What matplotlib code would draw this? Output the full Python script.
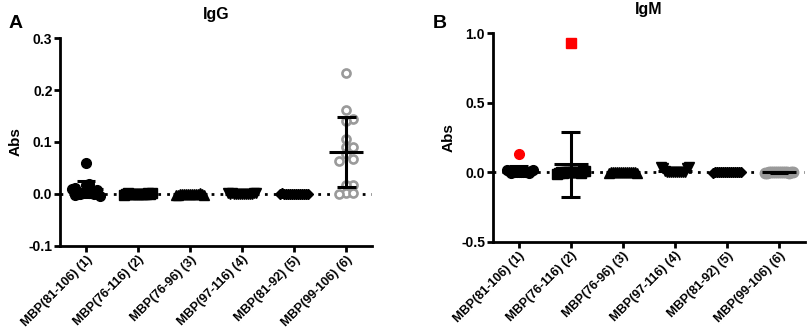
import numpy as np
import matplotlib
matplotlib.use("Agg")
import matplotlib.pyplot as plt

plt.rcParams['font.family'] = ['Liberation Sans', 'DejaVu Sans']
plt.rcParams['font.weight'] = 'bold'

# peptide groups (x axis)
groups = ["MBP(81-106) (1)", "MBP(76-116) (2)", "MBP(76-96) (3)",
          "MBP(97-116) (4)", "MBP(81-92) (5)", "MBP(99-106) (6)"]

# IgG absorbance per group
igg_g1 = [0.059, 0.020, 0.018, 0.012, 0.010, 0.008, 0.005, 0.003, 0.002, 0.001, 0.0, 0.0, 0.0, -0.002, -0.003]
igg_g2 = [0.002, 0.001, 0.001, 0.0, 0.0, 0.0, 0.0, 0.0, 0.0, 0.0, 0.0, -0.001, -0.001, -0.001, -0.002]
igg_g3 = [0.001, 0.0, 0.0, 0.0, 0.0, 0.0, 0.0, 0.0, 0.0, 0.0, -0.001, -0.001, -0.002, -0.002, -0.002]
igg_g4 = [0.002, 0.002, 0.001, 0.001, 0.0, 0.0, 0.0, 0.0, 0.0, 0.0, 0.0, 0.0, -0.001, -0.001, 0.0]
igg_g5 = [0.001, 0.0, 0.0, 0.0, 0.0, 0.0, 0.0, 0.0, 0.0, 0.0, 0.0, 0.0, -0.001, -0.001, 0.0]
igg_g6 = [0.233, 0.161, 0.144, 0.140, 0.105, 0.091, 0.091, 0.076, 0.067, 0.063, 0.018, 0.018, 0.002, 0.0, 0.002]

# IgM absorbance per group
igm_g1 = [0.134, 0.020, 0.015, 0.010, 0.010, 0.005, 0.005, 0.0, 0.0, 0.0, 0.0, 0.0, 0.0, -0.005, -0.005]
igm_g2 = [0.930, 0.010, 0.008, 0.005, 0.003, 0.0, 0.0, 0.0, 0.0, 0.0, 0.0, 0.0, -0.003, -0.005, -0.008, -0.010]
igm_g3 = [0.002, 0.001, 0.0, 0.0, 0.0, 0.0, 0.0, 0.0, 0.0, 0.0, 0.0, -0.001, -0.002, -0.002, 0.0]
igm_g4 = [0.035, 0.035, 0.030, 0.030, 0.010, 0.005, 0.0, 0.0, 0.0, 0.0, 0.0, 0.0, 0.0, 0.0, 0.0]
igm_g5 = [0.002, 0.001, 0.0, 0.0, 0.0, 0.0, 0.0, 0.0, 0.0, 0.0, 0.0, 0.0, -0.001, -0.002, 0.0]
igm_g6 = [0.004, 0.003, 0.002, 0.001, 0.0, 0.0, 0.0, 0.0, 0.0, 0.0, -0.001, -0.002, -0.003, -0.004, 0.0]

# outliers drawn in red in the IgM panel (group index, value)
igm_red = [(0, 0.134), (1, 0.930)]

igg_data = [igg_g1, igg_g2, igg_g3, igg_g4, igg_g5, igg_g6]
igm_data = [igm_g1, igm_g2, igm_g3, igm_g4, igm_g5, igm_g6]

markers = ['o', 's', '^', 'v', 'D', 'o']
GREY = '#9a9a9a'


def swarm_offsets(ax, x0, vals, d_px=7.0, max_px=14.0):
    """Simple beeswarm in pixel space, squeezed to a max half-width."""
    pts = ax.transData.transform([(x0, v) for v in vals])
    ys = pts[:, 1]
    order = np.argsort(np.abs(ys - np.median(ys)))
    placed = []
    offs = np.zeros(len(vals))
    for i in order:
        k = 0
        while True:
            cands = [0.0] if k == 0 else [k * d_px, -k * d_px]
            ok = None
            for c in cands:
                if all((c - px) ** 2 + (ys[i] - py) ** 2 >= d_px ** 2 for px, py in placed):
                    ok = c
                    break
            if ok is not None:
                offs[i] = ok
                placed.append((ok, ys[i]))
                break
            k += 1
    m = np.abs(offs).max()
    if m > max_px:
        offs *= max_px / m
    unit = ax.transData.transform([(1, 0)])[0, 0] - ax.transData.transform([(0, 0)])[0, 0]
    return offs / unit


def draw_panel(ax, data, ylim, yticks, title, igm=False):
    ax.set_xlim(-0.5, 5.5)
    ax.set_ylim(*ylim)
    ax.axhline(0, color='black', lw=2, ls=(0, (1, 2.2)), zorder=1)

    for i, vals in enumerate(data):
        vals = np.array(vals)
        offs = swarm_offsets(ax, i, vals)
        colors = ['black'] * len(vals)
        if igm:
            for gi, rv in igm_red:
                if gi == i:
                    colors[int(np.argmin(np.abs(vals - rv)))] = 'red'
        for xo, v, c in zip(offs, vals, colors):
            if i == 5 and not igm:
                ax.plot(i + xo, v, marker='o', ms=5.8, mfc='white', mec=GREY, mew=1.9,
                        ls='none', zorder=3)
            elif i == 5:
                ax.plot(i + xo, v, marker='o', ms=7.5, color=GREY, ls='none', zorder=3)
            else:
                ms = 7 if markers[i] in ('o', 's', '^', 'v') else 5.5
                ax.plot(i + xo, v, marker=markers[i], ms=ms,
                        color=c, ls='none', zorder=3 if c == 'black' else 4)

        mean = vals.mean()
        sd = vals.std(ddof=1)
        ax.hlines(mean, i - 0.33, i + 0.33, color='black', lw=2.2, zorder=5)
        ax.vlines(i, mean - sd, mean + sd, color='black', lw=2.2, zorder=5)
        ax.hlines([mean - sd, mean + sd], i - 0.18, i + 0.18, color='black', lw=2.2, zorder=5)

    ax.set_yticks(yticks)
    ax.set_yticklabels([f"{t:.1f}" for t in yticks], fontsize=10, fontweight='bold')
    ax.set_xticks(range(len(groups)))
    ax.set_xticklabels(groups, rotation=45, ha='right', rotation_mode='anchor',
                       fontsize=9, fontweight='bold')
    ax.set_ylabel('Abs', fontsize=11, fontweight='bold', labelpad=4)
    ax.set_title(title, fontsize=11.5, fontweight='bold', pad=14)
    for s in ['top', 'right']:
        ax.spines[s].set_visible(False)
    for s in ['left', 'bottom']:
        ax.spines[s].set_linewidth(2)
    ax.tick_params(width=2, length=4, pad=1.5)


fig = plt.figure(figsize=(8.09, 3.31), dpi=100)
ax1 = fig.add_axes([0.0742, 0.257, 0.386, 0.628])
ax2 = fig.add_axes([0.609, 0.269, 0.386, 0.631])

draw_panel(ax1, igg_data, (-0.1, 0.3), [-0.1, 0.0, 0.1, 0.2, 0.3], 'IgG')
draw_panel(ax2, igm_data, (-0.5, 1.0), [-0.5, 0.0, 0.5, 1.0], 'IgM', igm=True)

fig.text(0.010, 0.93, 'A', fontsize=14, fontweight='bold', va='center')
fig.text(0.535, 0.93, 'B', fontsize=14, fontweight='bold', va='center')

fig.savefig('out.png', dpi=100)
